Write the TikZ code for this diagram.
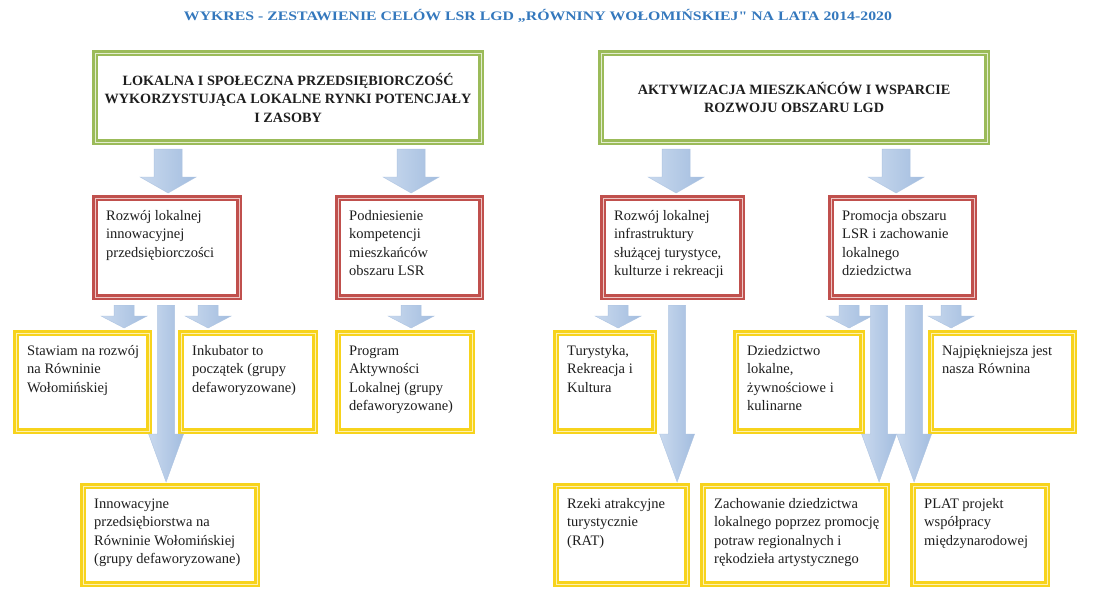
\documentclass[tikz,border=0pt]{standalone}
\usepackage{fontspec}
\setmainfont{Liberation Serif}
\usetikzlibrary{calc}
\definecolor{titleblue}{HTML}{3478BD}
\definecolor{grn}{HTML}{9BBB59}
\definecolor{grnl}{HTML}{E3EDCF}
\definecolor{rd}{HTML}{C0504D}
\definecolor{rdl}{HTML}{EDC7C6}
\definecolor{yl}{HTML}{F7D31C}
\definecolor{yll}{HTML}{FDF1B0}
\definecolor{arA}{HTML}{C9D9EE}
\definecolor{arB}{HTML}{F1F5FB}
\definecolor{arC}{HTML}{A3BDDF}
\definecolor{arD}{HTML}{AEC4E2}
\definecolor{ink}{HTML}{1E1E1E}
\tikzset{
  gbox/.style={draw=grn, line width=2.2pt, double=grnl, double distance=1pt, fill=white, inner sep=0pt},
  rbox/.style={draw=rd, line width=2.2pt, double=rdl, double distance=1pt, fill=white, inner sep=0pt},
  ybox/.style={draw=yl, line width=2.2pt, double=yll, double distance=1pt, fill=white, inner sep=0pt},
  txt/.style={font=\fontsize{14.5}{18.5}\selectfont, text=ink, align=left, inner sep=0pt, anchor=north west},
  gtxt/.style={font=\bfseries\fontsize{14.2}{18.5}\selectfont, text=ink, align=center, inner sep=0pt},
  arrowfill/.style={left color=arA, middle color=arB, right color=arC, draw=arD, line width=0.4pt},
}
% style, name, x0, y0, x1, y1
\newcommand\cbox[6]{\node[#1, anchor=north west, minimum width={#5-#3}, minimum height={#6-#4}] (#2) at (#3,#4) {};}
% text inside a box (top left)
\newcommand\btext[2]{\node[txt] (#1t) at ([xshift=12pt,yshift=-10pt]#1.north west) {\strut#2};}
% block arrow: start coord, end coord, half shaft, half head, head length
\newcommand\barr[5]{\path[arrowfill] let \p1=(#1), \p2=(#2) in (\x1-#3pt,\y1) -- (\x1+#3pt,\y1) -- (\x1+#3pt,\y2+#5pt) -- (\x1+#4pt,\y2+#5pt) -- (\x1,\y2) -- (\x1-#4pt,\y2+#5pt) -- (\x1-#3pt,\y2+#5pt) -- cycle;}
\begin{document}
\begin{tikzpicture}[x=1pt,y=-1pt]
\useasboundingbox (0,0) rectangle (1095,607);
\fill[white] (0,0) rectangle (1095,607);

\node[font=\bfseries\fontsize{13}{14}\selectfont, text=titleblue, inner sep=0pt] (title) at (538,16)
  {\resizebox{708pt}{\height}{WYKRES - ZESTAWIENIE CELÓW LSR LGD „RÓWNINY WOŁOMIŃSKIEJ{\addfontfeatures{Ligatures=TeXOff}"} NA LATA 2014-2020}};

% top level
\cbox{gbox}{g1}{94}{52}{480}{141}
\node[gtxt] (g1t) at (g1.center) {LOKALNA I SPOŁECZNA PRZEDSIĘBIORCZOŚĆ\\WYKORZYSTUJĄCA LOKALNE RYNKI POTENCJAŁY\\I ZASOBY};
\cbox{gbox}{g2}{600}{52}{986}{141}
\node[gtxt] (g2t) at (g2.center) {AKTYWIZACJA MIESZKAŃCÓW I WSPARCIE\\ROZWOJU OBSZARU LGD};

% second level
\cbox{rbox}{r1}{94}{197}{238}{296}
\btext{r1}{Rozwój lokalnej\\innowacyjnej\\przedsiębiorczości}
\cbox{rbox}{r2}{337}{197}{480}{296}
\btext{r2}{Podniesienie\\kompetencji\\mieszkańców\\obszaru LSR}
\cbox{rbox}{r3}{602}{197}{741}{296}
\btext{r3}{Rozwój lokalnej\\infrastruktury\\służącej turystyce,\\kulturze i rekreacji}
\cbox{rbox}{r4}{830}{197}{973}{296}
\btext{r4}{Promocja obszaru\\LSR i zachowanie\\lokalnego\\dziedzictwa}

% third level
\cbox{ybox}{ya}{15}{332}{148}{430}
\btext{ya}{Stawiam na rozwój\\na Równinie\\Wołomińskiej}
\cbox{ybox}{yb}{180}{332}{314}{430}
\btext{yb}{Inkubator to\\początek (grupy\\defaworyzowane)}
\cbox{ybox}{yc}{337}{332}{471}{430}
\btext{yc}{Program\\Aktywności\\Lokalnej (grupy\\defaworyzowane)}
\cbox{ybox}{yd}{555}{332}{653}{430}
\btext{yd}{Turystyka,\\Rekreacja i\\Kultura}
\cbox{ybox}{ye}{735}{332}{861}{430}
\btext{ye}{Dziedzictwo\\lokalne,\\żywnościowe i\\kulinarne}
\cbox{ybox}{yf}{930}{332}{1073}{430}
\btext{yf}{Najpiękniejsza jest\\nasza Równina}

% fourth level
\cbox{ybox}{yg}{82}{485}{256}{583}
\btext{yg}{Innowacyjne\\przedsiębiorstwa na\\Równinie Wołomińskiej\\(grupy defaworyzowane)}
\cbox{ybox}{yh}{555}{485}{686}{583}
\btext{yh}{Rzeki atrakcyjne\\turystycznie\\(RAT)}
\cbox{ybox}{yi}{702}{485}{886}{583}
\btext{yi}{Zachowanie dziedzictwa\\lokalnego poprzez promocję\\potraw regionalnych i\\rękodzieła artystycznego}
\cbox{ybox}{yj}{912}{485}{1046}{583}
\btext{yj}{PLAT projekt\\współpracy\\międzynarodowej}

% arrows green -> red
\coordinate (t1e) at ([xshift=1pt,yshift=4pt]r1.north);
\coordinate (t1s) at ([yshift=-6pt]t1e |- g1.south);
\coordinate (t2e) at ([xshift=1.5pt,yshift=4pt]r2.north);
\coordinate (t2s) at ([yshift=-6pt]t2e |- g1.south);
\coordinate (t3e) at ([xshift=3.5pt,yshift=4pt]r3.north);
\coordinate (t3s) at ([yshift=-6pt]t3e |- g2.south);
\coordinate (t4e) at ([xshift=-6.5pt,yshift=4pt]r4.north);
\coordinate (t4s) at ([yshift=-6pt]t4e |- g2.south);
\barr{t1s}{t1e}{14}{28}{16}
\barr{t2s}{t2e}{14}{28}{16}
\barr{t3s}{t3e}{14}{28}{16}
\barr{t4s}{t4e}{14}{28}{16}

% short arrows red -> yellow
\coordinate (s1s) at ([xshift=-43pt,yshift=-7pt]r1.south);
\coordinate (s1e) at ([yshift=4pt]s1s |- ya.north);
\coordinate (s2s) at ([xshift=41pt,yshift=-7pt]r1.south);
\coordinate (s2e) at ([yshift=4pt]s2s |- yb.north);
\coordinate (s3s) at ([xshift=1.5pt,yshift=-7pt]r2.south);
\coordinate (s3e) at ([yshift=4pt]s3s |- yc.north);
\coordinate (s4s) at ([xshift=-54.5pt,yshift=-7pt]r3.south);
\coordinate (s4e) at ([yshift=4pt]s4s |- yd.north);
\coordinate (s5s) at ([xshift=-53.5pt,yshift=-7pt]r4.south);
\coordinate (s5e) at ([yshift=4pt]s5s |- ye.north);
\coordinate (s6s) at ([xshift=48.5pt,yshift=-7pt]r4.south);
\coordinate (s6e) at ([yshift=4pt]s6s |- yf.north);
\foreach \k in {1,...,6} {\barr{s\k s}{s\k e}{10}{23}{12}}

% long arrows red -> bottom row
\coordinate (l1s) at ([xshift=-1pt,yshift=-7pt]r1.south);
\coordinate (l1e) at ([yshift=3pt]l1s |- yg.north);
\coordinate (l2s) at ([xshift=4.5pt,yshift=-7pt]r3.south);
\coordinate (l2e) at ([yshift=3pt]l2s |- yh.north);
\coordinate (l3s) at ([xshift=-23.5pt,yshift=-7pt]r4.south);
\coordinate (l3e) at ([yshift=3pt]l3s |- yi.north);
\coordinate (l4s) at ([xshift=11.5pt,yshift=-7pt]r4.south);
\coordinate (l4e) at ([yshift=3pt]l4s |- yj.north);
\foreach \k in {1,...,4} {\barr{l\k s}{l\k e}{8.5}{17.5}{48}}
\end{tikzpicture}
\end{document}
